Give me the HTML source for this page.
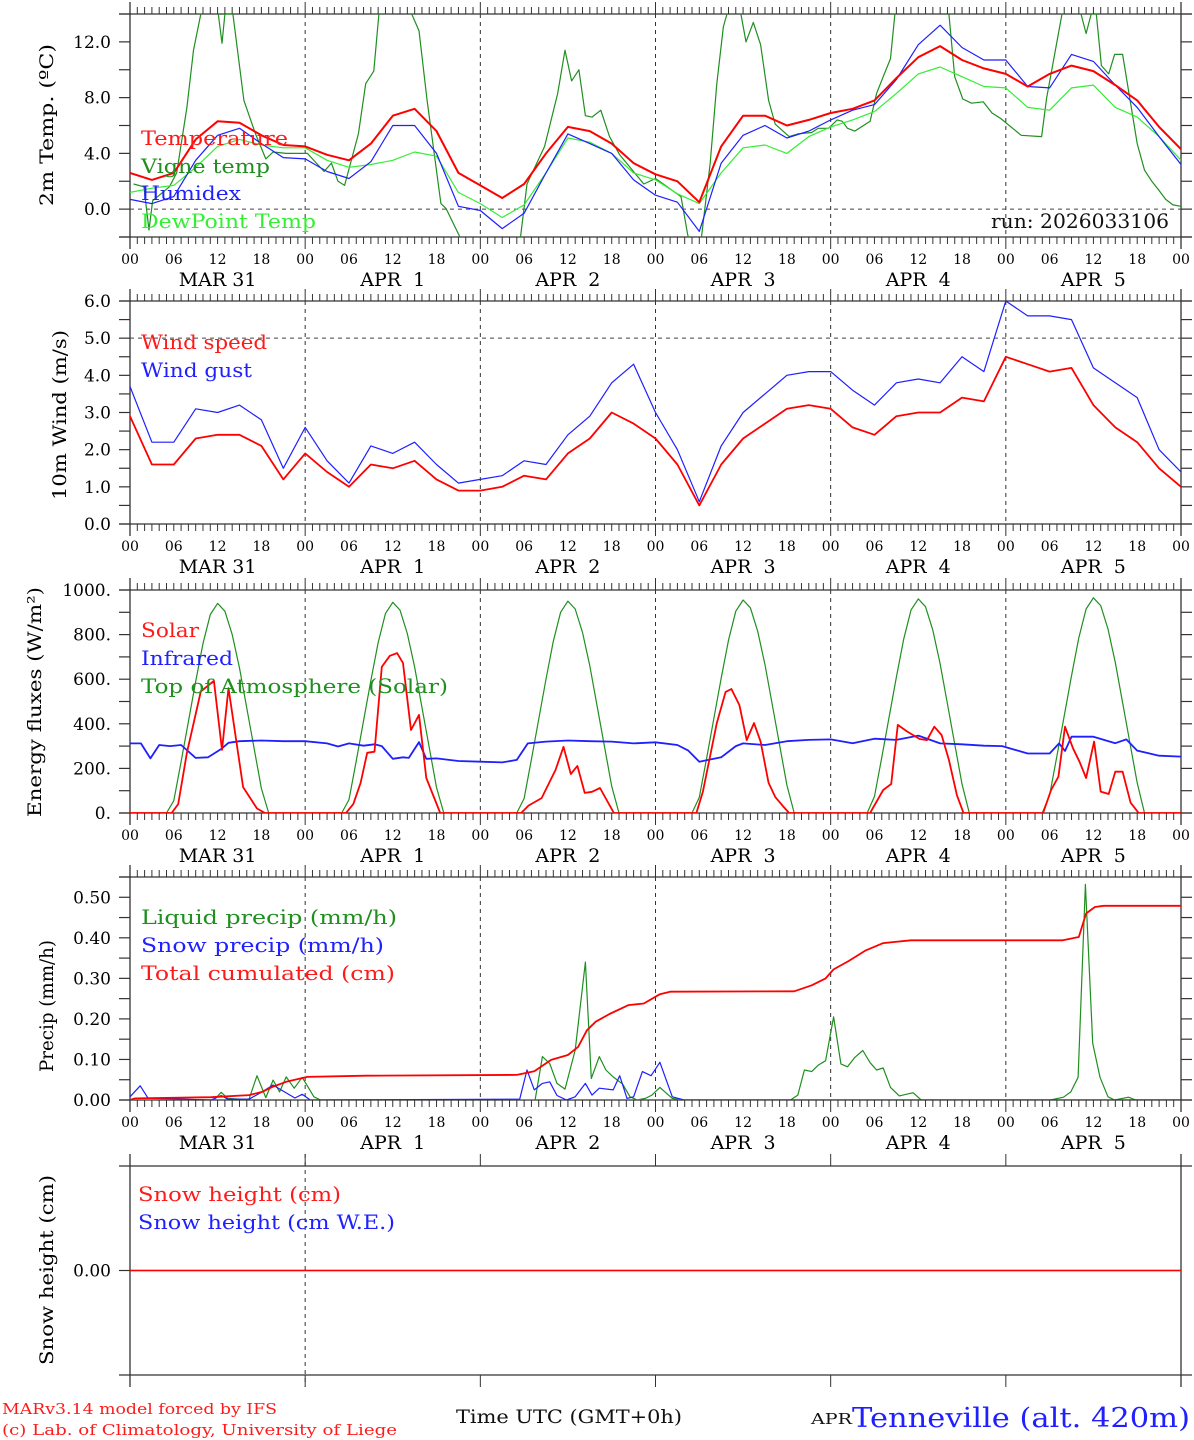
<!DOCTYPE html>
<html><head><meta charset="utf-8"><title>MAR meteogram Tenneville</title>
<style>
html,body{margin:0;padding:0;background:#fff;}
svg{display:block;font-family:"DejaVu Serif","Liberation Serif",serif;}
text{white-space:pre;}
</style></head>
<body>
<svg id="chart" width="1194" height="1440" viewBox="0 0 1194 1440" xmlns="http://www.w3.org/2000/svg">
<rect x="0" y="0" width="1194" height="1440" fill="#fff"/>
</svg>
<script>
// ---------- DATA ----------
const hours3 = [0,3,6,9,12,15,18,21,24,27,30,33,36,39,42,45,48,51,54,57,60,63,66,69,72,75,78,81,84,87,90,93,96,99,102,105,108,111,114,117,120,123,126,129,132,135,138,141,144];
const dayLabels = ["MAR 31","APR  1","APR  2","APR  3","APR  4","APR  5"];
const hourLabels = ["00","06","12","18"];

const tempVals = [2.6,2.1,2.6,5.0,6.3,6.2,5.3,4.6,4.5,3.9,3.5,4.7,6.7,7.2,5.6,2.6,1.7,0.8,1.8,4.0,5.9,5.6,4.7,3.3,2.5,2.0,0.5,4.5,6.7,6.7,6.0,6.4,6.9,7.2,7.8,9.4,10.9,11.7,10.7,10.1,9.7,8.8,9.7,10.3,9.9,8.9,7.8,5.9,4.3];
const humidexVals = [0.7,0.4,0.9,3.5,5.3,5.8,4.7,3.7,3.6,2.7,2.2,3.4,6.0,6.0,4.0,0.2,-0.1,-1.4,-0.3,2.6,5.4,4.7,4.0,2.1,1.0,0.5,-1.6,3.3,5.3,6.0,5.1,5.6,6.4,7.1,7.5,9.3,11.8,13.2,11.6,10.7,10.7,8.8,8.7,11.1,10.6,8.9,7.3,5.2,3.2];
const dewVals = [1.2,1.5,1.7,3.0,4.5,5.0,4.6,4.4,4.4,3.5,3.0,3.2,3.5,4.1,3.8,1.2,0.4,-0.6,0.3,2.6,5.1,4.8,4.0,2.6,2.1,1.1,0.4,2.6,4.4,4.6,4.0,5.2,5.9,6.4,7.0,8.3,9.7,10.2,9.5,8.8,8.7,7.3,7.1,8.7,8.9,7.3,6.6,5.2,3.5];
const vigneHours = [0.5,1.9,2.6,3.1,5.4,6.4,7.8,8.7,9.7,11,12.1,12.6,13.0,14.1,15.6,17.2,18.6,19.6,21.4,24.3,26.6,27.6,28.5,29.4,31.3,32.3,33.4,34.1,36,38.6,39.6,40.7,42.6,43.3,45.2,46,53,53.5,54.4,56.8,58.6,59.6,60.5,61.5,62.4,63.3,64.5,65.7,67.1,70.4,72.0,75.5,76.4,77,78,78.3,79.5,80.4,81.3,81.8,83,83.7,84.4,85.4,86.4,87.5,88.4,90.3,91.5,93.4,94.3,95.7,96.9,97.6,98.3,99.3,101.4,102.3,103.2,104.2,104.8,108,112.2,113.0,114.1,115.3,116.9,118.1,119.3,122.1,124.9,125.6,127.7,129,130.3,131.0,131.7,132.4,133.1,134.1,134.9,136.0,138.0,139.0,140.0,140.9,141.9,142.9,144];
const vigneVals = [1.8,1.6,-1.5,0.6,1.6,2.6,7.3,11.4,14,16,14,11.9,14,14,7.8,5.4,3.6,4.1,4.0,4.0,2.7,3.3,2.0,1.7,5.4,9.0,9.9,14,16,14,12.8,7.8,0.4,0.05,-2,-3,-3,-2,1.8,4.5,8.3,11.4,9.2,10.0,6.7,6.6,7.1,5.2,3.9,1.8,2.2,0.9,-1.8,-3,-3,-2,3.3,9.0,13.1,14,16,14,12.0,13.4,11.8,7.8,6.1,5.2,5.4,5.5,5.8,5.8,6.4,6.3,5.8,5.6,6.3,8.3,9.5,10.8,14,16,14,9.5,7.9,7.6,7.7,6.9,6.5,5.3,5.2,8,14,16,14,12.6,14,14,10.3,9.7,11.1,11.1,4.7,2.8,2.0,1.4,0.7,0.3,0.2];

const windSpeedVals = [2.9,1.6,1.6,2.3,2.4,2.4,2.1,1.2,1.9,1.4,1.0,1.6,1.5,1.7,1.2,0.9,0.9,1.0,1.3,1.2,1.9,2.3,3.0,2.7,2.3,1.6,0.5,1.6,2.3,2.7,3.1,3.2,3.1,2.6,2.4,2.9,3.0,3.0,3.4,3.3,4.5,4.3,4.1,4.2,3.2,2.6,2.2,1.5,1.0];
const windGustVals = [3.7,2.2,2.2,3.1,3.0,3.2,2.8,1.5,2.6,1.7,1.1,2.1,1.9,2.2,1.6,1.1,1.2,1.3,1.7,1.6,2.4,2.9,3.8,4.3,3.0,2.0,0.6,2.1,3.0,3.5,4.0,4.1,4.1,3.6,3.2,3.8,3.9,3.8,4.5,4.1,6.0,5.6,5.6,5.5,4.2,3.8,3.4,2.0,1.4];

const solarHours = [0,5.7,6.6,7.8,9.7,11.5,12.6,13.5,15.5,17.4,18.5,29.6,30.6,31.6,32.5,33.5,34.5,35.6,36.6,37.4,38.5,39.6,40.6,42.5,53.6,54.6,56.4,58.3,59.4,60.4,61.3,62.3,63.3,64.4,66.3,77.6,78.5,80.4,81.6,82.4,83.5,84.5,85.5,86.4,87.5,88.4,89.4,90.3,101.4,103.2,104.3,105.2,106.5,108.2,109.2,110.2,111.2,112.2,113.3,114.2,125.1,126.2,127.2,128.1,129.2,130.1,131.0,132.1,133.0,134.1,135.0,136.0,137.1,138.2,144];
const solarVals = [0,0,40,270,545,593,283,560,116,20,0,0,40,135,270,275,655,705,717,672,372,440,157,0,0,33,67,193,297,175,211,90,95,112,0,0,96,403,543,556,484,327,403,320,135,72,33,0,0,103,130,395,365,332,327,387,350,238,80,0,0,103,163,387,290,230,157,320,96,85,185,185,46,0,0];
const irHours = [0,1.5,2.8,4,5.5,7,9,10.7,12.5,13.5,15,18,21,24,27,28.5,30,32,33.5,34.5,36,37.4,38.2,39.6,40.6,42,45,48,51,53,54.5,57,60,63,66,69,72,75,76.5,78,81,83,84,87,90,93,96,99,102,105,108,111,114,117,119.5,123,126,127.3,128.1,129,132,135,136.5,138,141,144];
const irVals = [312,312,245,305,300,305,247,250,287,315,322,325,322,322,312,298,312,302,308,300,243,250,247,318,243,245,233,230,227,238,312,320,325,322,320,312,317,305,280,230,250,300,312,305,322,328,330,313,333,328,347,312,308,302,300,267,267,312,278,342,342,313,330,280,257,253];
const toaDay1 = [0,0,0,0,0,0,55,230,410,590,760,890,940,905,800,650,470,290,110,0,0,0,0,0];
const toaDay2 = [0,0,0,0,0,0,60,235,415,595,765,895,945,910,805,655,475,295,115,0,0,0,0,0];
const toaDay3 = [0,0,0,0,0,0,65,240,420,600,770,900,950,915,810,660,480,300,120,0,0,0,0,0];
const toaDay4 = [0,0,0,0,0,0,70,245,425,605,775,905,955,920,815,665,485,305,125,0,0,0,0,0];
const toaDay5 = [0,0,0,0,0,0,75,250,430,610,780,910,960,925,820,670,490,310,130,0,0,0,0,0];
const toaDay6 = [0,0,0,0,0,0,80,255,435,615,785,915,965,930,825,675,495,315,135,0,0,0,0,0,0];

const liquidHours = [0,11.5,12.5,13.4,15.2,16.3,17.4,18.6,19.6,20.5,21.4,22.5,23.6,25.2,26.1,55.5,56.5,57.5,58.5,59.6,61,62.4,63.2,64.3,65.2,66.2,67.5,68.5,69.5,70.6,71.5,72.6,74.3,75.5,90.5,91.5,92.4,93.4,94.3,95.3,96.4,97.4,98.3,99.3,100.4,101.4,102.3,103.2,104.2,105.4,107.3,108.4,126.1,127.9,128.9,129.9,130.9,131.9,132.9,134.0,134.9,136.8,137.8,144];
const liquidVals = [0,0,0.019,0.004,0.002,0.002,0.06,0.006,0.049,0.02,0.057,0.029,0.056,0.008,0,0,0.107,0.09,0.041,0.027,0.123,0.34,0.053,0.107,0.074,0.057,0.039,0.008,0,0.004,0.012,0.031,0.004,0,0,0.012,0.074,0.07,0.086,0.097,0.205,0.089,0.082,0.105,0.122,0.092,0.074,0.079,0.031,0.01,0.018,0,0,0.007,0.02,0.056,0.532,0.14,0.056,0.008,0,0.007,0,0];
const snowHours = [0,1.4,2.5,5.4,11.1,12.5,13.4,16.3,18.1,19.6,20.7,22.6,23.6,24.7,53.4,54.4,55.4,56.5,57.5,58.5,59.8,61,62.4,63.3,64.3,66.2,67.1,68.1,69,70.2,71.4,72.6,74.3,75.9,144];
const snowVals = [0.008,0.035,0.004,0.003,0,0.011,0.002,0.002,0.02,0.037,0.025,0.005,0.014,0,0.002,0.074,0.025,0.041,0.045,0.011,0,0.008,0.041,0.012,0.029,0.025,0.06,0.004,0.008,0.07,0.06,0.093,0.008,0,0];
const cumHours = [0,0.7,11.1,16.3,18.1,19.6,21.4,24.3,32.3,53,55.4,57.7,60.0,61.4,62.6,63.8,65.7,68.3,70.4,72.6,74,91,93.4,95.3,96.4,98.5,100.8,103.2,107,127.8,130,131,132.2,133.4,144];
const cumVals = [0,0.004,0.007,0.012,0.02,0.033,0.045,0.057,0.06,0.062,0.071,0.099,0.111,0.131,0.172,0.193,0.212,0.234,0.238,0.261,0.267,0.268,0.283,0.3,0.322,0.343,0.369,0.387,0.394,0.394,0.402,0.46,0.476,0.479,0.479];
const snowHeightHours = [0,144];
const snowHeightVals = [0,0];
const snowWEVals = [0,0];

// ---------- DRAWING ----------
const svg = document.getElementById('chart');
const NS = 'http://www.w3.org/2000/svg';
const X0 = 130, X1 = 1181;
function xh(h){ return X0 + (X1 - X0) * h / 144; }
function mk(tag, attrs, parent){
  const el = document.createElementNS(NS, tag);
  for (const k in attrs) el.setAttribute(k, attrs[k]);
  (parent || svg).appendChild(el);
  return el;
}
const panels = [
  {id:'temp', top:14, bot:237, min:-2, max:14},
  {id:'wind', top:301, bot:524, min:0, max:6},
  {id:'energy', top:590, bot:813, min:0, max:1000},
  {id:'precip', top:877, bot:1100, min:0, max:0.55},
  {id:'snow', top:1166, bot:1375, min:-1, max:1}
];
function yv(p, v){ return p.bot - (v - p.min) / (p.max - p.min) * (p.bot - p.top); }

const defs = mk('defs', {});
panels.forEach(p => {
  const cp = mk('clipPath', {id:'clip-' + p.id}, defs);
  mk('rect', {x:X0, y:p.top, width:X1 - X0, height:p.bot - p.top}, cp);
});

function series(p, hrs, vals, color, width, name){
  const pts = hrs.map((h, i) => xh(h).toFixed(1) + ',' + yv(p, vals[i]).toFixed(1)).join(' ');
  const line = mk('polyline', {points:pts, fill:'none', stroke:color, 'stroke-width':width, 'stroke-linejoin':'round', 'clip-path':'url(#clip-' + p.id + ')'});
  
  
  return line;
}
function txt(x, y, s, opts){
  const t = mk('text', Object.assign({x:x, y:y, fill:'#000', 'font-size':17}, opts || {}));
  t.textContent = s;
  return t;
}

// frames, ticks, grid
panels.forEach((p, pi) => {
  const g = mk('g', {stroke:'#333', 'stroke-width':1.3, fill:'none'});
  
  
  mk('line', {x1:119, y1:p.top, x2:1192, y2:p.top}, g);
  mk('line', {x1:119, y1:p.bot, x2:1192, y2:p.bot}, g);
  mk('line', {x1:X0, y1:p.top - 12, x2:X0, y2:p.bot + 12}, g);
  mk('line', {x1:X1, y1:p.top - 12, x2:X1, y2:p.bot + 12}, g);
  if (pi < 4) {
    for (let h = 0; h <= 144; h++) {
      const L = (h % 24 === 0) ? 12 : 7;
      mk('line', {x1:xh(h), y1:p.top - L, x2:xh(h), y2:p.top, 'stroke-width':1}, g);
      mk('line', {x1:xh(h), y1:p.bot, x2:xh(h), y2:p.bot + L, 'stroke-width':1}, g);
    }
    for (let d = 1; d < 6; d++) {
      mk('line', {x1:xh(d*24), y1:p.top, x2:xh(d*24), y2:p.bot, 'stroke-width':1, 'stroke-dasharray':'4,4'}, g);
    }
  } else {
    for (let d = 1; d < 6; d++) {
      mk('line', {x1:xh(d*24), y1:p.top - 12, x2:xh(d*24), y2:p.top, 'stroke-width':1}, g);
      mk('line', {x1:xh(d*24), y1:p.bot, x2:xh(d*24), y2:p.bot + 12, 'stroke-width':1}, g);
    }
    mk('line', {x1:xh(24), y1:p.top - 12, x2:xh(24), y2:p.bot + 12, 'stroke-width':1, 'stroke-dasharray':'4,4'}, g);
  }
});

// y ticks and labels
function yTicks(p, step, labelStep, fmt, ref){
  const g = mk('g', {stroke:'#333', 'stroke-width':1.2});
  
  
  for (let v = p.min; v <= p.max + 1e-9; v += step) {
    const y = yv(p, v);
    mk('line', {x1:119, y1:y, x2:X0, y2:y}, g);
    mk('line', {x1:X1, y1:y, x2:1192, y2:y}, g);
  }
  const start = Math.ceil(p.min / labelStep - 1e-9) * labelStep;
  for (let v = start; v <= p.max + 1e-9; v += labelStep) {
    const vv = Math.round(v * 1000) / 1000;
    if (fmt(vv) === null) continue;
    const t = txt(111, yv(p, vv) + 6, fmt(vv), {'text-anchor':'end', 'font-size':17});
    
    
  }
  if (ref !== undefined) {
    const r = mk('line', {x1:X0, y1:yv(p, ref), x2:X1, y2:yv(p, ref), stroke:'#444', 'stroke-width':1, 'stroke-dasharray':'4,4'});
    
    
  }
}
yTicks(panels[0], 2, 4, v => (v >= 0 && v <= 12) ? v.toFixed(1) : null, 0);
yTicks(panels[1], 0.5, 1, v => v.toFixed(1), 5);
yTicks(panels[2], 100, 200, v => v.toFixed(0) + '.');
yTicks(panels[3], 0.05, 0.1, v => v <= 0.5 ? v.toFixed(2) : null);
(function(){
  const p = panels[4];
  const l = mk('line', {x1:119, y1:yv(p,0), x2:X0, y2:yv(p,0), stroke:'#333', 'stroke-width':1.2});
  
  
  const t = txt(111, yv(p, 0) + 6, '0.00', {'text-anchor':'end', 'font-size':17});
  
  
})();

// x labels
for (let pi = 0; pi < 4; pi++) {
  const p = panels[pi];
  for (let d = 0; d <= 6; d++) {
    for (let k = 0; k < 4; k++) {
      if (d === 6 && k > 0) break;
      const t = txt(xh(d*24 + k*6), p.bot + 27, hourLabels[k], {'text-anchor':'middle', 'font-size':14});
      
      
    }
    if (d < 6) {
      const t = txt(xh(d*24 + 12), p.bot + 49, dayLabels[d], {'text-anchor':'middle', 'font-size':19});
      
      
    }
  }
}

// axis titles
function yTitle(cx, cy, s, len, name){
  const t = txt(0, 0, s, {'text-anchor':'middle', 'font-size':19, transform:'translate(' + cx + ',' + cy + ') rotate(-90)', textLength:len, lengthAdjust:'spacingAndGlyphs'});
  
  
}
yTitle(53, 125, '2m Temp. (ºC)', 162, 'temp-y-axis-title');
yTitle(66, 415, '10m Wind (m/s)', 170, 'wind-y-axis-title');
yTitle(41, 702, 'Energy fluxes (W/m²)', 230, 'energy-y-axis-title');
yTitle(53, 1006, 'Precip (mm/h)', 132, 'precip-y-axis-title');
yTitle(53, 1270, 'Snow height (cm)', 190, 'snow-y-axis-title');

// series
const P = panels;
const hoursHourly = [];
for (let h = 0; h <= 144; h++) hoursHourly.push(h);
const toaVals = toaDay1.concat(toaDay2, toaDay3, toaDay4, toaDay5, toaDay6);

series(P[0], vigneHours, vigneVals, '#1f8f1f', 1.2, 'vigne-temp-line');
series(P[0], hours3, dewVals, '#33ee33', 1.2, 'dewpoint-line');
series(P[0], hours3, humidexVals, '#1f1fff', 1.2, 'humidex-line');
series(P[0], hours3, tempVals, '#ff0000', 2, 'temperature-line');

series(P[1], hours3, windGustVals, '#1f1fff', 1.2, 'wind-gust-line');
series(P[1], hours3, windSpeedVals, '#ff0000', 1.8, 'wind-speed-line');

series(P[2], hoursHourly, toaVals, '#1f8f1f', 1.2, 'toa-solar-line');
series(P[2], irHours, irVals, '#1f1fff', 1.8, 'infrared-line');
series(P[2], solarHours, solarVals, '#ff0000', 1.8, 'solar-line');

series(P[3], liquidHours, liquidVals, '#1f8f1f', 1.2, 'liquid-precip-line');
series(P[3], snowHours, snowVals, '#1f1fff', 1.2, 'snow-precip-line');
series(P[3], cumHours, cumVals, '#ff0000', 1.8, 'total-cumulated-line');

series(P[4], snowHeightHours, snowWEVals, '#1f1fff', 1.2, 'snow-we-line');
series(P[4], snowHeightHours, snowHeightVals, '#ff0000', 1.6, 'snow-height-line');

// legends
function legend(x, y, s, color, len, name){
  const t = txt(x, y, s, {fill:color, 'font-size':20, textLength:len, lengthAdjust:'spacingAndGlyphs'});
  
  
}
legend(141, 145, 'Temperature', '#ff1a1a', 147, 'legend-temperature');
legend(141, 173, 'Vigne temp', '#1f8f1f', 129, 'legend-vigne-temp');
legend(141, 200, 'Humidex', '#1f1fff', 100, 'legend-humidex');
legend(141, 228, 'DewPoint Temp', '#33ee33', 175, 'legend-dewpoint');
legend(991, 228, 'run: 2026033106', '#111', 178, 'run-label');
legend(141, 349, 'Wind speed', '#ff1a1a', 126, 'legend-wind-speed');
legend(141, 377, 'Wind gust', '#1f1fff', 111, 'legend-wind-gust');
legend(141, 637, 'Solar', '#ff1a1a', 58, 'legend-solar');
legend(141, 665, 'Infrared', '#1f1fff', 92, 'legend-infrared');
legend(141, 693, 'Top of Atmosphere (Solar)', '#1f8f1f', 307, 'legend-toa');
legend(141, 924, 'Liquid precip (mm/h)', '#1f8f1f', 256, 'legend-liquid-precip');
legend(141, 952, 'Snow precip (mm/h)', '#1f1fff', 243, 'legend-snow-precip');
legend(141, 980, 'Total cumulated (cm)', '#ff1a1a', 254, 'legend-total-cumulated');
legend(138, 1201, 'Snow height (cm)', '#ff1a1a', 203, 'legend-snow-height');
legend(138, 1229, 'Snow height (cm W.E.)', '#1f1fff', 257, 'legend-snow-height-we');

// footer
function foot(x, y, s, color, size, len, name){
  const t = txt(x, y, s, {fill:color, 'font-size':size, textLength:len, lengthAdjust:'spacingAndGlyphs'});
  
  
}
foot(2, 1414, 'MARv3.14 model forced by IFS', '#ff1a1a', 15, 275, 'credit-model');
foot(2, 1435, '(c) Lab. of Climatology, University of Liege', '#ff1a1a', 15, 395, 'credit-lab');
foot(456, 1423, 'Time UTC (GMT+0h)', '#111', 19, 226, 'x-axis-title');
foot(811, 1424, 'APR', '#111', 15, 41, 'apr-fragment');
foot(852, 1427, 'Tenneville (alt. 420m)', '#1f1fff', 27, 338, 'station-title');
</script>
</body></html>
